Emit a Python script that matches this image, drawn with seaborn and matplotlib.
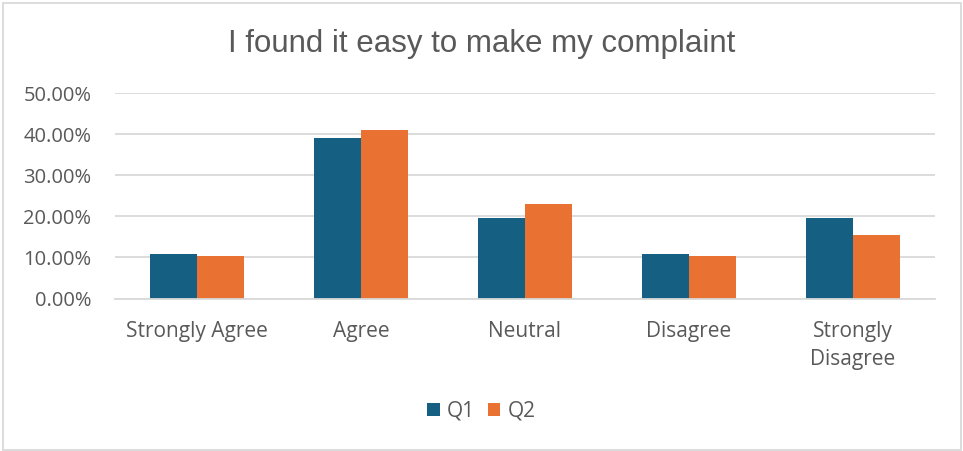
import matplotlib
matplotlib.use("Agg")
import matplotlib.pyplot as plt
from matplotlib.patches import Rectangle
from matplotlib.ticker import PercentFormatter
import seaborn as sns
import pandas as pd

# Survey responses: share of respondents per answer
categories = ["Strongly Agree", "Agree", "Neutral", "Disagree", "Strongly\nDisagree"]
q1_values = [10.87, 39.13, 19.57, 10.87, 19.57]
q2_values = [10.26, 41.03, 23.08, 10.26, 15.38]
series_names = ["Q1", "Q2"]
tick_values = [0, 10, 20, 30, 40, 50]

df = pd.DataFrame({
    "category": categories * 2,
    "value": q1_values + q2_values,
    "series": [series_names[0]] * len(categories) + [series_names[1]] * len(categories),
})

sns.set_theme(style="white")
plt.rcParams["font.family"] = ["Open Sans", "DejaVu Sans"]

text_color = "#595959"
grid_color = "#D9D9D9"
palette = {"Q1": "#156082", "Q2": "#E97132"}

fig = plt.figure(figsize=(9.63, 4.51), dpi=100)
ax = fig.add_axes([115 / 963, 1 - 298.5 / 451, 820 / 963, 205.5 / 451])

sns.barplot(data=df, x="category", y="value", hue="series", palette=palette,
            width=0.57, gap=0, saturation=1, linewidth=0, ax=ax, legend=True)

ax.set_ylim(0, 50)
ax.set_xlim(-0.5, len(categories) - 0.5)
ax.set_yticks(tick_values)
ax.yaxis.set_major_formatter(PercentFormatter(decimals=2))
ax.grid(axis="y", color=grid_color, linewidth=1.3)
ax.set_axisbelow(True)
for side in ["top", "right", "left"]:
    ax.spines[side].set_visible(False)
ax.spines["bottom"].set_color(grid_color)
ax.spines["bottom"].set_linewidth(1.3)
ax.set_xlabel("")
ax.set_ylabel("")
ax.tick_params(axis="both", length=0, labelcolor=text_color)
ax.tick_params(axis="x", pad=16, labelsize=15)
ax.tick_params(axis="y", pad=17, labelsize=14.5)
for lbl in ax.get_xticklabels():
    lbl.set_linespacing(1.45)

handles, labels = ax.get_legend_handles_labels()
ax.legend_.remove()
fig.legend(handles, labels, loc="center", bbox_to_anchor=(0.5, 1 - 411 / 451),
           ncol=2, frameon=False, fontsize=15, labelcolor=text_color,
           handlelength=0.6, handleheight=0.6, handletextpad=0.35,
           columnspacing=0.6)

fig.text(0.5, 1 - 44 / 451, "I found it easy to make my complaint",
         ha="center", va="center", fontsize=22.5, color=text_color,
         family=["Liberation Sans", "DejaVu Sans"])

fig.patches.append(Rectangle((3 / 963, 1 / 451), 958 / 963, 447 / 451,
                             transform=fig.transFigure, fill=False,
                             edgecolor=grid_color, linewidth=1.3))

fig.savefig("out.png", dpi=100, facecolor="white")
